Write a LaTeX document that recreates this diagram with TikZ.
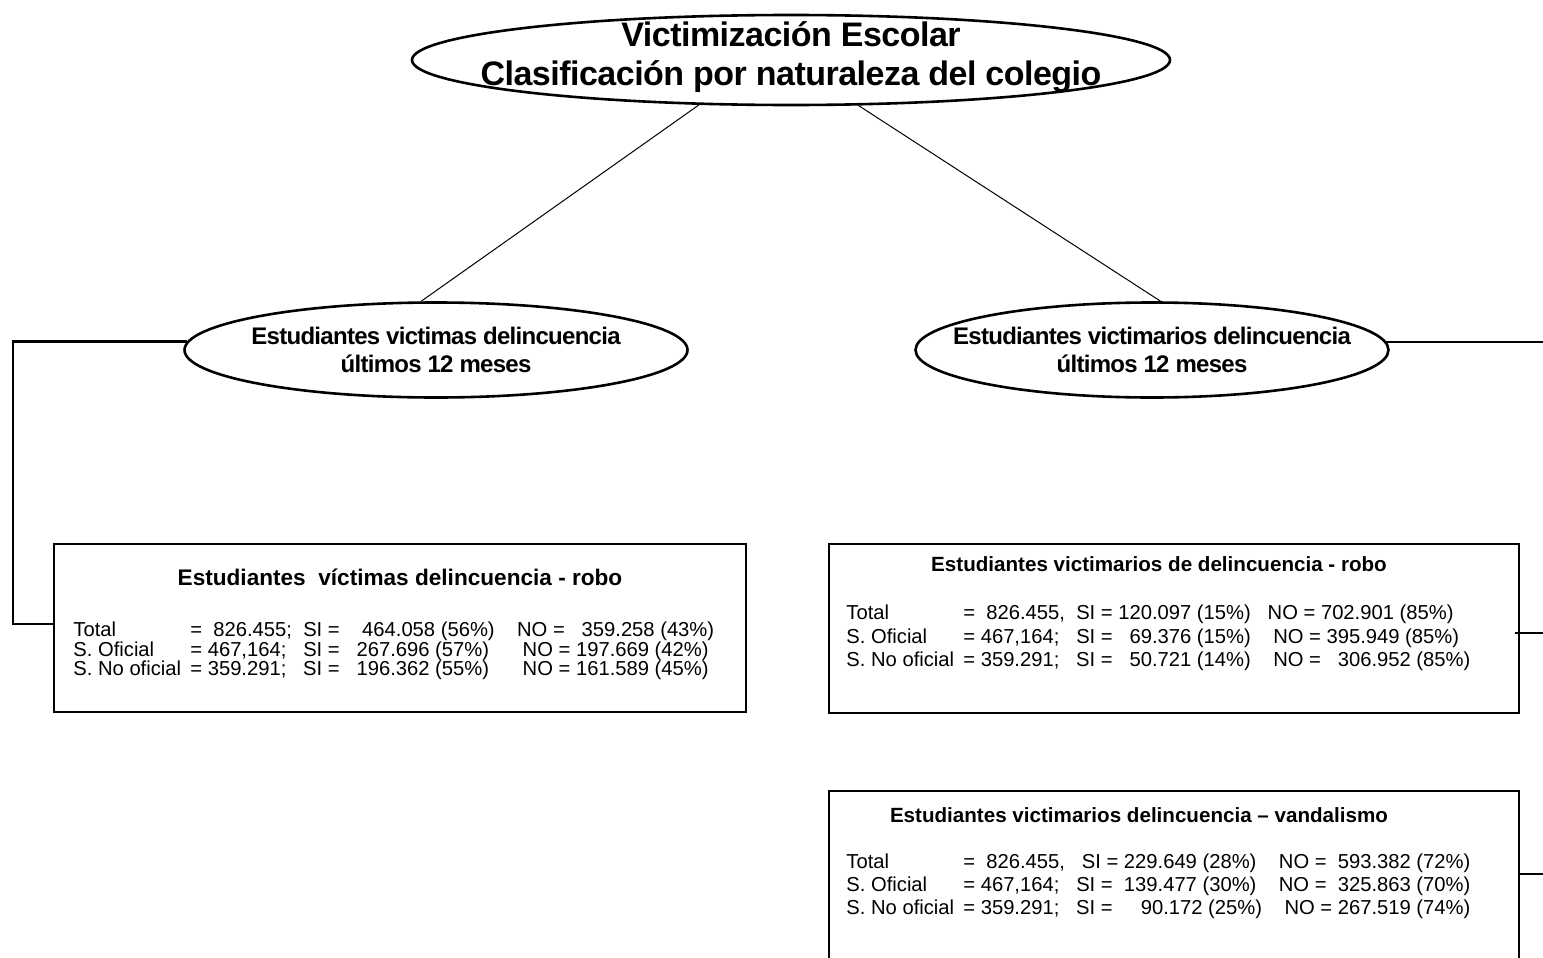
\documentclass[tikz,border=0pt]{standalone}
\usepackage{fontspec}
\setmainfont{Liberation Sans}
\newfontfamily\tightsans[LetterSpace=-3]{Liberation Sans}
\newfontfamily\headsans[LetterSpace=-1.5]{Liberation Sans}
\usetikzlibrary{shapes.geometric}

\newcommand{\rowlabel}[1]{\makebox[58.5pt][l]{#1}}

\begin{document}
\begin{tikzpicture}[x=0.5pt,y=-0.5pt,
  bubble/.style={ellipse,draw,line width=1.3pt,inner sep=0pt},
  btext/.style={align=center,inner sep=0pt,font=\tightsans\bfseries\fontsize{12}{13.8}\selectfont},
  panel/.style={draw,line width=1.1pt,inner sep=0pt,anchor=north west},
  thin/.style={line width=0.5pt},
  rail/.style={line width=1.3pt},
  ptitle/.style={inner sep=0pt},
  row/.style={font=\fontsize{10.1}{11}\selectfont,inner sep=0pt,anchor=base west}]
\useasboundingbox (0,0) rectangle (1543,958);
\clip (0,0) rectangle (1543,958);

% ---- ellipses ----
\node[bubble,minimum width=379pt,minimum height=45pt] (top) at (791,60) {};
\node[btext,font=\headsans\bfseries\fontsize{17}{19.5}\selectfont] (toptext) at (791,57)
  {Victimización Escolar\\Clasificación por naturaleza del colegio};
\node[bubble,minimum width=251.5pt,minimum height=47.5pt] (lmid) at (436,350) {};
\node[btext] (lmidtext) at (lmid.center) {Estudiantes victimas delincuencia\\últimos 12 meses};
\node[bubble,minimum width=236.5pt,minimum height=47.5pt] (rmid) at (1152,350) {};
\node[btext] (rmidtext) at (rmid.center) {Estudiantes victimarios delincuencia\\últimos 12 meses};

\draw[thin] (top.206) -- (lmid.107);
\draw[thin] (top.326) -- (rmid.80);

% ---- panels ----
\node[panel,minimum width=346pt,minimum height=84pt] (box1) at (53,543) {};
\node[panel,minimum width=345pt,minimum height=84.5pt] (box2) at (828,543) {};
\node[panel,minimum width=345pt,minimum height=100pt] (box3) at (828,790) {};

% ---- connectors ----
\coordinate (lrail) at (13,624);
\coordinate (rrail) at (1543,343);
\coordinate (rs1) at (1543,633);
\coordinate (rs2) at (1543,874);
\draw[rail] (lmid.178) -| (lrail) -- (box1.west |- lrail);
\draw[rail] (rmid.2) -- (rmid.2 -| rrail);
\draw[rail] ([xshift=-2.5pt]box2.east |- rs1) -- (rs1);
\draw[rail] (box3.east |- rs2) -- (rs2);

% ---- panel 1 ----
\node[ptitle,font=\bfseries\fontsize{11.3}{13}\selectfont] (t1) at (400,577)
  {Estudiantes \ víctimas delincuencia - robo};
\node[row] (a1) at (73,636) {\rowlabel{Total}= \ 826.455; \ SI = \ \ \ 464.058 (56\%) \ \ \ NO = \ \ 359.258 (43\%)};
\node[row] (a2) at (73,656) {\rowlabel{S. Oficial}= 467,164; \ \ SI = \ \ 267.696 (57\%) \ \ \ \ \ NO = 197.669 (42\%)};
\node[row] (a3) at (73,675) {\rowlabel{S. No oficial}= 359.291; \ \ SI = \ \ 196.362 (55\%) \ \ \ \ \ NO = 161.589 (45\%)};

% ---- panel 2 ----
\node[ptitle,font=\bfseries\fontsize{10.3}{12}\selectfont] (t2) at (1159,564)
  {Estudiantes victimarios de delincuencia - robo};
\node[row] (b1) at (846,619) {\rowlabel{Total}= \ 826.455, \ SI = 120.097 (15\%) \ \ NO = 702.901 (85\%)};
\node[row] (b2) at (846,643) {\rowlabel{S. Oficial}= 467,164; \ \ SI = \ \ 69.376 (15\%) \ \ \ NO = 395.949 (85\%)};
\node[row] (b3) at (846,666) {\rowlabel{S. No oficial}= 359.291; \ \ SI = \ \ 50.721 (14\%) \ \ \ NO = \ \ 306.952 (85\%)};

% ---- panel 3 ----
\node[ptitle,font=\bfseries\fontsize{10.3}{12}\selectfont] (t3) at (1139,815)
  {Estudiantes victimarios delincuencia -- vandalismo};
\node[row] (c1) at (846,868) {\rowlabel{Total}= \ 826.455, \ \ SI = 229.649 (28\%) \ \ \ NO = \ 593.382 (72\%)};
\node[row] (c2) at (846,891) {\rowlabel{S. Oficial}= 467,164; \ \ SI = \ 139.477 (30\%) \ \ \ NO = \ 325.863 (70\%)};
\node[row] (c3) at (846,914) {\rowlabel{S. No oficial}= 359.291; \ \ SI = \ \ \ \ 90.172 (25\%) \ \ \ NO = 267.519 (74\%)};
\end{tikzpicture}
\end{document}
